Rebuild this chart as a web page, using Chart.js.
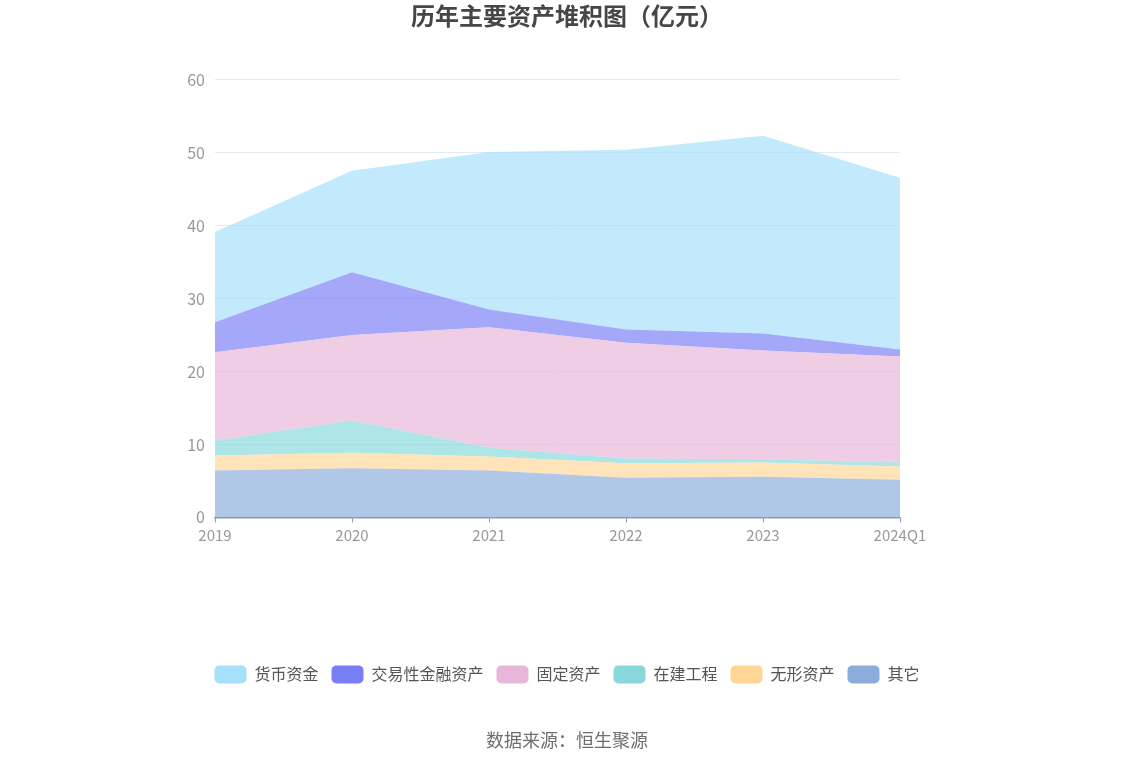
<!DOCTYPE html>
<html>
<head>
<meta charset="utf-8">
<script src="https://cdn.jsdelivr.net/npm/chart.js@4/dist/chart.umd.min.js"></script>
<style>
    html, body { margin: 0; padding: 0; background: #fff; }
    #wrap { width: 1134px; height: 766px; position: relative; }
</style>
</head>
<body>
<div id="wrap"><canvas id="chart" width="1134" height="766"></canvas></div>
<script>
// 年份
const years = ['2019', '2020', '2021', '2022', '2023', '2024Q1'];

// 各项资产（亿元），从下往上
const other      = [6.44, 6.75, 6.44, 5.43, 5.57, 5.16];   // 其它
const intangible = [2.05, 2.11, 1.92, 2.01, 1.96, 1.83];   // 无形资产
const construct  = [2.06, 4.43, 1.19, 0.64, 0.46, 0.54];   // 在建工程
const fixed      = [12.09, 11.71, 16.52, 15.85, 14.89, 14.52]; // 固定资产
const trading    = [4.11, 8.60, 2.42, 1.82, 2.32, 0.96];   // 交易性金融资产
const cash       = [12.39, 13.93, 21.61, 24.66, 27.13, 23.57]; // 货币资金

const yTicks = [0, 10, 20, 30, 40, 50, 60];

const FONT = '"Noto Sans CJK SC", "Noto Sans", sans-serif';

// 颜色
function rgba(hex, a) {
    const n = parseInt(hex.slice(1), 16);
    return `rgba(${n >> 16}, ${(n >> 8) & 255}, ${n & 255}, ${a})`;
}

const series = [
    { label: '其它', data: other, color: '#8caddb' },
    { label: '无形资产', data: intangible, color: '#fed797' },
    { label: '在建工程', data: construct, color: '#88d8db' },
    { label: '固定资产', data: fixed, color: '#e8b6d8' },
    { label: '交易性金融资产', data: trading, color: '#7a7ef5' },
    { label: '货币资金', data: cash, color: '#a6e0fa' }
];

const datasets = series.map((s, i) => ({
    label: s.label,
    data: s.data,
    solid: s.color,
    backgroundColor: rgba(s.color, 0.68),
    borderColor: 'rgba(0,0,0,0)',
    borderWidth: 0,
    pointRadius: 0,
    pointHoverRadius: 0,
    tension: 0,
    fill: i === 0 ? 'origin' : '-1'
}));

const ctx = document.getElementById('chart').getContext('2d');

new Chart(ctx, {
    type: 'line',
    data: { labels: years, datasets: datasets },
    options: {
        responsive: false,
        animation: false,
        layout: { padding: 0 },
        plugins: {
            tooltip: { enabled: false },
            title: {
                display: true,
                text: '历年主要资产堆积图（亿元）',
                color: '#464646',
                font: { family: FONT, size: 24, weight: 'bold' },
                padding: { top: 1, bottom: 50 }
            },
            subtitle: {
                display: true,
                position: 'bottom',
                text: '数据来源：恒生聚源',
                color: '#6e6e6e',
                font: { family: FONT, size: 18 },
                padding: { top: 36, bottom: 15 }
            },
            legend: {
                position: 'bottom',
                reverse: true,
                labels: {
                    boxWidth: 32,
                    boxHeight: 18,
                    useBorderRadius: true,
                    borderRadius: 5,
                    padding: 13,
                    color: '#555',
                    font: { family: FONT, size: 16 },
                    generateLabels: function(chart) {
                        const items = Chart.defaults.plugins.legend.labels.generateLabels(chart);
                        items.forEach(item => {
                            const ds = chart.data.datasets[item.datasetIndex];
                            item.fillStyle = ds.solid;
                            item.strokeStyle = 'rgba(0,0,0,0)';
                            item.lineWidth = 0;
                        });
                        return items;
                    }
                }
            }
        },
        scales: {
            x: {
                offset: false,
                grid: {
                    drawOnChartArea: false,
                    drawTicks: true,
                    tickLength: 5,
                    tickColor: '#8a99ad'
                },
                border: { display: true, color: '#8a99ad', width: 1.5 },
                ticks: {
                    color: '#999',
                    padding: 4,
                    maxRotation: 0,
                    font: { family: FONT, size: 15 }
                },
                afterFit: function(scale) { scale.height = 135; }
            },
            y: {
                stacked: true,
                min: 0,
                max: 60,
                grid: { color: '#e6e9f2', drawTicks: false, lineWidth: 1 },
                border: { display: false },
                afterBuildTicks: function(scale) {
                    scale.ticks = yTicks.map(v => ({ value: v }));
                },
                ticks: {
                    color: '#999',
                    padding: 10,
                    font: { family: FONT, size: 16 }
                },
                afterFit: function(scale) { scale.width = 215; }
            },
            // 右侧留白用的空轴
            yRight: {
                type: 'linear',
                position: 'right',
                display: true,
                grid: { display: false },
                border: { display: false },
                ticks: { display: false },
                afterFit: function(scale) { scale.width = 234; }
            }
        }
    }
});
</script>
</body>
</html>
